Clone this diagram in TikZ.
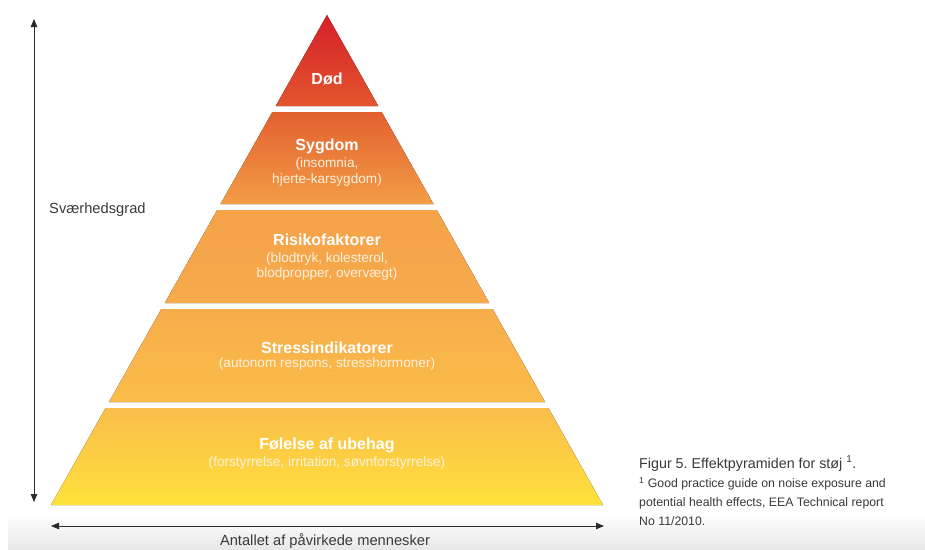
\documentclass[tikz,border=0pt]{standalone}
\usepackage{fontspec}
\setmainfont{Liberation Sans}
\usetikzlibrary{arrows.meta}
\frenchspacing
\definecolor{c1t}{HTML}{D61F2A}
\definecolor{c1b}{HTML}{E2552D}
\definecolor{c2t}{HTML}{E3602F}
\definecolor{c2b}{HTML}{F39D46}
\definecolor{c3t}{HTML}{F5A249}
\definecolor{c3b}{HTML}{F7AA4B}
\definecolor{c4t}{HTML}{F7AC4C}
\definecolor{c4b}{HTML}{FBBD48}
\definecolor{c5t}{HTML}{FABD4B}
\definecolor{c5b}{HTML}{FEE13A}
\definecolor{axisc}{HTML}{2B2B2B}
\definecolor{txtc}{HTML}{3A3A3A}
\definecolor{subc}{HTML}{FFF1DC}
\tikzset{
  title/.style={text=white,font=\fontsize{16}{18}\selectfont\bfseries,anchor=base,inner sep=0pt},
  sub/.style={text=subc,font=\fontsize{13.6}{16}\selectfont,anchor=base,inner sep=0pt,align=center},
  axisline/.style={draw=axisc,line width=0.9pt,{Triangle[length=8pt,width=6.5pt]}-{Triangle[length=8pt,width=6.5pt]}},
  axislabel/.style={text=txtc,font=\fontsize{14.7}{17}\selectfont,inner sep=0pt,anchor=base west},
  caption/.style={text=txtc,inner sep=0pt,anchor=base west}
}
\begin{document}
\begin{tikzpicture}[x=1pt,y=-1pt]
\useasboundingbox (0,0) rectangle (925,549);
\fill[white] (0,0) rectangle (925,549);
% bottom light band
\fill[top color=white,bottom color=black!9] (8,514) rectangle (925,549);
% layers
\fill[top color=c1t,bottom color=c1b] (327,15) -- (378.3,106) -- (275.7,106) -- cycle;
\fill[top color=c2t,bottom color=c2b] (272.4,112) -- (381.6,112) -- (433.5,204) -- (220.5,204) -- cycle;
\fill[top color=c3t,bottom color=c3b] (217.2,210) -- (436.8,210) -- (489.2,303) -- (164.8,303) -- cycle;
\fill[top color=c4t,bottom color=c4b] (161.4,309) -- (492.6,309) -- (545.0,402) -- (109.0,402) -- cycle;
\fill[top color=c5t,bottom color=c5b] (105.6,408) -- (548.4,408) -- (603.0,505) -- (51.0,505) -- cycle;
% texts
\node[title] (dod) at (327,84) {Død};
\node[title] (syg) at (327,150) {Sygdom};
\node[sub] (syg1) at (327,167) {(insomnia,};
\node[sub] (syg2) at (327,183) {hjerte-karsygdom)};
\node[title] (risk) at (327,245) {Risikofaktorer};
\node[sub] (risk1) at (327,262) {(blodtryk, kolesterol,};
\node[sub] (risk2) at (327,277) {blodpropper, overvægt)};
\node[title] (stress) at (327,353) {Stressindikatorer};
\node[sub] (stress1) at (327,367) {(autonom respons, stresshormoner)};
\node[title] (fol) at (327,449) {Følelse af ubehag};
\node[sub] (fol1) at (327,466) {(forstyrrelse, irritation, søvnforstyrrelse)};
% axes
\coordinate (vtop) at (34,19);
\coordinate (vbot) at (34,502);
\coordinate (hl) at (51,526);
\coordinate (hr) at (604,526);
\draw[axisline] (vbot) -- (vtop);
\draw[axisline] (hl) -- (hr);
\node[axislabel] (sv) at (49,213) {Sværhedsgrad};
\node[axislabel,anchor=base] (ant) at (325,545) {Antallet af påvirkede mennesker};
% caption
\node[caption,font=\fontsize{14.3}{17}\selectfont] (cap) at (639,468) {Figur 5. Effektpyramiden for støj~\textsuperscript{1}.};
\node[caption,font=\fontsize{12.3}{19}\selectfont,align=left,anchor=north west] (ref) at (639,477)
  {\textsuperscript{1} Good practice guide on noise exposure and\\potential health effects, EEA Technical report\\No 11/2010.};
\end{tikzpicture}
\end{document}
